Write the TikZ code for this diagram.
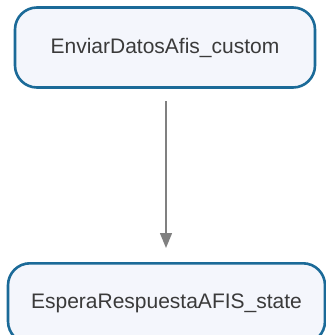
\documentclass[tikz,border=0pt]{standalone}
\usepackage{fontspec}
\setmainfont{Liberation Sans}
\usetikzlibrary{arrows.meta}
\definecolor{stateborder}{HTML}{1B6A98}
\definecolor{statefill}{HTML}{F4F6FC}
\definecolor{flowgray}{HTML}{808080}
\definecolor{labelgray}{HTML}{3A3A3A}
\begin{document}
\begin{tikzpicture}[x=1pt,y=-1pt,
  statebox/.style={draw=stateborder, fill=statefill, line width=2.6pt,
    rounded corners=22pt, text=labelgray, font=\fontsize{21}{24}\selectfont},
  flow/.style={draw=flowgray, line width=1.3pt,
    -{Triangle[length=15pt,width=12pt]}}]
  \useasboundingbox (0,0) rectangle (326,335);
  \node[statebox, minimum width=300pt, minimum height=80pt] (send) at (165,47.5) {EnviarDatosAfis\_custom};
  \node[statebox, minimum width=317pt, minimum height=80pt, anchor=north] (wait) at (166.5,262) {EsperaRespuestaAFIS\_state};
  \draw[flow, shorten <=12.5pt, shorten >=14pt] (send.south -| 166,0) -- (wait.north -| 166,0);
\end{tikzpicture}
\end{document}
